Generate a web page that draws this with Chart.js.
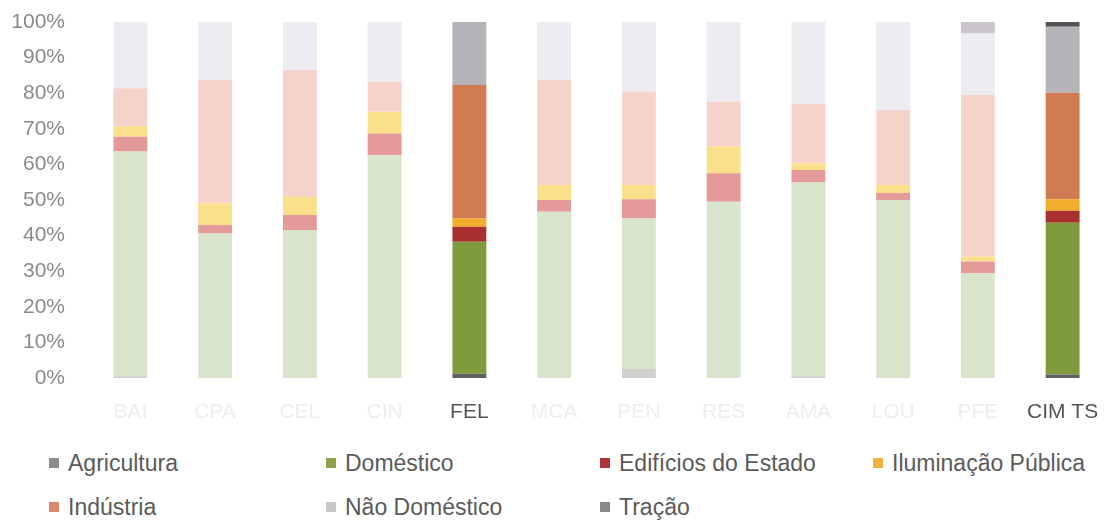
<!DOCTYPE html>
<html>
<head>
  <title>Consumo por sector</title>
  <script src="https://cdn.jsdelivr.net/npm/chart.js"></script>
  <style>
    body { margin: 0; background: #fff; font-family: 'Liberation Sans', Arial, sans-serif; }
    #wrap { position: relative; width: 1105px; height: 430px; }
    #legend { display: grid; grid-template-columns: 277px 274px 273px 260px; row-gap: 18px;
              margin-left: 49px; margin-top: 20px; color: #5a5a5a; font-size: 23px; line-height: 26px; }
    #legend span.box { display: inline-block; width: 10px; height: 10px; margin-right: 9px; vertical-align: 3px; }
  </style>
</head>
<body>
  <div id="wrap"><canvas id="chart"></canvas></div>
  <div id="legend"></div>
  <script>
    const municipios = ['BAI', 'CPA', 'CEL', 'CIN', 'FEL', 'MCA', 'PEN', 'RES', 'AMA', 'LOU', 'PFE', 'CIM TS'];
    const destaque = ['FEL', 'CIM TS'];

    // % do consumo por sector
    const agricultura  = [0.5, 0,    0,    0,    1.2,  0,    2.5,  0,    0.5,  0,    0,    1.0];
    const domestico    = [63.1, 40.6, 41.6, 62.6, 37.1, 46.7, 42.3, 49.5, 54.4, 50.0, 29.4, 42.6];
    const edificios    = [4.2, 2.4,  4.2,  6.1,  4.2,  3.3,  5.4,  8.0,  3.5,  2.0,  3.3,  3.4];
    const iluminacao   = [2.9, 6.1,  5.1,  6.1,  2.3,  4.2,  4.0,  7.5,  1.9,  2.2,  1.4,  3.2];
    const industria    = [10.7, 34.6, 35.6, 8.4, 37.5, 29.5, 26.2, 12.6, 16.7, 21.1, 45.4, 29.9];
    const naoDomestico = [18.6, 16.3, 13.5, 16.8, 17.7, 16.3, 19.6, 22.4, 23.0, 24.7, 17.3, 18.6];
    const tracao       = [0,   0,    0,    0,    0,    0,    0,    0,    0,    0,    3.2,  1.3];

    const series = [
      { label: 'Agricultura', data: agricultura, cor: '#5f5f5f', claro: '#cfcfcf', leg: '#8c8c8c' },
      { label: 'Doméstico', data: domestico, cor: '#7e9c3d', claro: '#d8e5cc', leg: '#8ca24e' },
      { label: 'Edifícios do Estado', data: edificios, cor: '#a8302e', claro: '#e39a98', leg: '#b0343c' },
      { label: 'Iluminação Pública', data: iluminacao, cor: '#f2ae2a', claro: '#fbe08c', leg: '#f0b43c' },
      { label: 'Indústria', data: industria, cor: '#d07b52', claro: '#f5d3cb', leg: '#d98a6a' },
      { label: 'Não Doméstico', data: naoDomestico, cor: '#b5b3b8', claro: '#ececf1', leg: '#c8c8c8' },
      { label: 'Tração', data: tracao, cor: '#555555', claro: '#cac6cc', leg: '#8a8a8a' }
    ];

    const font = { family: "'Liberation Sans', Arial, sans-serif", size: 21 };

    new Chart(document.getElementById('chart'), {
      type: 'bar',
      data: {
        labels: municipios,
        datasets: series.map(s => ({
          label: s.label,
          data: s.data,
          backgroundColor: municipios.map(m => destaque.includes(m) ? s.cor : s.claro),
          borderWidth: 0,
          barPercentage: 0.4,
          categoryPercentage: 1
        }))
      },
      options: {
        responsive: true,
        maintainAspectRatio: false,
        animation: false,
        layout: { padding: { top: 22, right: 0, bottom: 5, left: 0 } },
        plugins: { legend: { display: false }, tooltip: { enabled: false } },
        scales: {
          x: {
            stacked: true,
            grid: { display: false, drawTicks: false },
            border: { display: false },
            afterFit: scale => { scale.height = 47; scale.paddingLeft = 0; scale.paddingRight = 0; },
            ticks: {
              font: font,
              padding: 22,
              color: ctx => destaque.includes(municipios[ctx.index]) ? '#555' : '#eeeeee'
            }
          },
          y: {
            stacked: true,
            min: 0,
            max: 100,
            grid: { display: false, drawTicks: false },
            border: { display: false },
            afterFit: scale => { scale.width = 88; scale.paddingTop = 0; scale.paddingBottom = 0; },
            ticks: {
              stepSize: 10,
              font: font,
              padding: 23,
              color: '#8a8a8a',
              callback: v => v + '%'
            }
          }
        }
      }
    });

    const legend = document.getElementById('legend');
    series.forEach(s => {
      const item = document.createElement('div');
      item.innerHTML = '<span class="box" style="background:' + s.leg + '"></span>' + s.label;
      legend.appendChild(item);
    });
  </script>
</body>
</html>
